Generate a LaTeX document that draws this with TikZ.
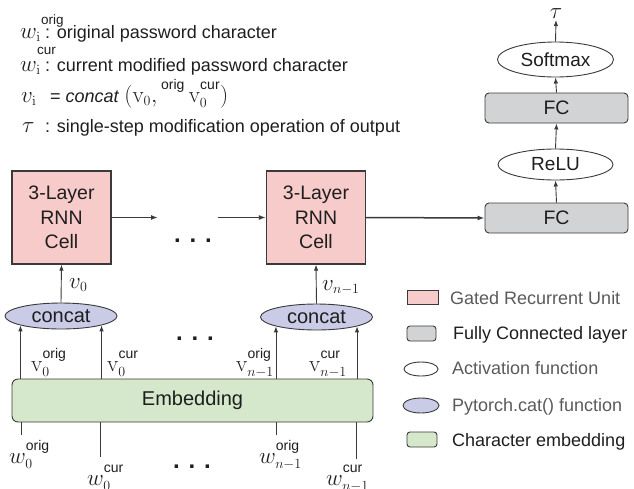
\RequirePackage{fix-cm}
\documentclass[tikz,border=0pt]{standalone}
\usepackage{amsmath}
\usepackage[no-math]{fontspec}
\setmainfont{Liberation Sans}
\DeclareMathSizes{23}{23}{14}{11}
\usetikzlibrary{shapes.geometric,arrows.meta}
\definecolor{gruFill}{HTML}{F8CBCB}
\definecolor{fcFill}{HTML}{D2D3D5}
\definecolor{catFill}{HTML}{CACBE6}
\definecolor{embFill}{HTML}{D5E8CC}
\definecolor{edgecol}{HTML}{3A3A3A}
\definecolor{lggray}{HTML}{5A5A5A}
\definecolor{txtdark}{HTML}{1E1E1E}
\newcommand{\mth}{\fontsize{23}{26}\selectfont}
\newcommand{\upsup}[1]{\text{\raisebox{4pt}{#1}}}
\tikzset{
  txt/.style={anchor=base west, inner sep=0pt, text=txtdark, font=\fontsize{18}{22}\selectfont},
  mtxt/.style={anchor=base west, inner sep=0pt, text=txtdark, font=\mth},
  suptxt/.style={anchor=base west, inner sep=0pt, text=txtdark, font=\fontsize{13.5}{15}\selectfont},
  cellbox/.style={draw=edgecol, fill=gruFill, line width=1.3pt, minimum width=99pt, minimum height=93pt,
    align=center, inner sep=0pt, text=txtdark, font=\fontsize{19.5}{24.5}\selectfont},
  fcbox/.style={draw=edgecol, fill=fcFill, rounded corners=4pt, line width=0.9pt, minimum width=143pt,
    minimum height=30pt, inner sep=0pt, text=txtdark, font=\fontsize{19.5}{22}\selectfont},
  actell/.style={ellipse, draw=edgecol, fill=white, line width=0.9pt, inner sep=0pt, text=txtdark,
    font=\fontsize{19}{22}\selectfont},
  catell/.style={ellipse, draw=edgecol, fill=catFill, line width=0.9pt, minimum width=112pt,
    minimum height=26pt, inner sep=0pt, text=txtdark, font=\fontsize{20}{22}\selectfont},
  embbox/.style={draw=edgecol, fill=embFill, rounded corners=6pt, line width=0.9pt, minimum width=361pt,
    minimum height=43pt, inner sep=0pt, text=txtdark, font=\fontsize{20}{22}\selectfont},
  arr/.style={-{Latex[length=6pt,width=4.5pt]}, line width=0.9pt, draw=edgecol},
  harr/.style={-{Latex[length=7pt,width=5pt]}, line width=1.5pt, draw=edgecol},
  plainln/.style={line width=0.9pt, draw=edgecol},
  dotstxt/.style={anchor=base, inner sep=0pt, text=txtdark, font=\fontsize{24}{26}\selectfont\bfseries},
  lgtext/.style={anchor=base west, inner sep=0pt, font=\fontsize{18}{22}\selectfont},
  lgbox/.style={draw=edgecol, line width=0.9pt, inner sep=0pt},
}
\begin{document}
\begin{tikzpicture}[x=1pt,y=-1pt]
\useasboundingbox (0,0) rectangle (634,488);

% ---- notation block (top left)
\node[mtxt] (l1w) at (20,38) {$w_{\mathrm{i}}$};
\node[suptxt] (l1s) at (41,24) {orig};
\node[txt] (l1t) at (45,38) {: original password character};
\node[mtxt] (l2w) at (20,71) {$w_{\mathrm{i}}$};
\node[suptxt] (l2s) at (37,54) {cur};
\node[txt] (l2t) at (45,71) {: current modified password character};
\node[mtxt] (l3v) at (21,102) {$v_{\mathrm{i}}$};
\node[txt] (l3t) at (47,102) {\,= \textit{concat} {\mth$(\mathrm{v}_0,{}^{\upsup{orig}}\,\mathrm{v}_0^{\upsup{cur}})$}};
\node[mtxt] (l4t) at (22,132) {$\tau$};
\node[txt] (l4s) at (45,132) {: single-step modification operation of output};

% ---- RNN cells
\node[cellbox] (cell1) at (61.5,217.5) {3-Layer\\RNN\\Cell};
\node[cellbox] (cell2) at (316,217.5) {3-Layer\\RNN\\Cell};
\coordinate (a1) at (158,217.5);
\coordinate (a2) at (218,217.5);
\draw[harr] (cell1.east) -- (a1);
\draw[harr] (a2) -- (cell2.west);
\node[dotstxt] (dots1) at (193,242) {. . .};

% ---- output column
\node[fcbox] (fc1) at (556.5,218) {FC};
\node[actell, minimum width=115pt, minimum height=31pt] (relu) at (555.5,164.5) {ReLU};
\node[fcbox] (fc2) at (556.5,108) {FC};
\node[actell, minimum width=116pt, minimum height=35pt] (soft) at (555.5,59.5) {Softmax};
\node[mtxt, anchor=south, inner sep=1pt] (tau) at (556,20) {$\tau$};
\draw[harr] (cell2.east) -- (fc1.west);
\draw[arr] (fc1.north) -- (relu.south);
\draw[arr] (relu.north) -- (fc2.south);
\draw[arr] (fc2.north) -- (soft.south);
\draw[arr] (soft.north) -- (tau.south);

% ---- concat
\node[catell] (c1) at (61,316) {concat};
\node[catell] (c2) at (316.5,317) {concat};
\draw[arr] (c1.north) -- (cell1.south);
\draw[arr] (c2.north) -- (cell2.south);
\node[mtxt] (v0) at (69,288) {$v_0$};
\node[mtxt] (vn) at (322,290) {$v_{n-1}$};
\node[dotstxt] (dots2) at (195,340) {. . .};

% ---- embedding
\node[embbox] (emb) at (192.5,400.5) {Embedding};
\draw[arr] (c1.193 |- emb.north) -- (c1.193);
\draw[arr] (c1.347 |- emb.north) -- (c1.347);
\draw[arr] (c2.193 |- emb.north) -- (c2.193);
\draw[arr] (c2.347 |- emb.north) -- (c2.347);
\node[mtxt] (vo1) at (31,371) {$\mathrm{v}_0^{\upsup{orig}}$};
\node[mtxt] (vc1) at (107,371) {$\mathrm{v}_0^{\upsup{cur}}$};
\node[mtxt, anchor=base east] (vo2) at (274,371) {$\mathrm{v}_{n-1}^{\upsup{orig}}$};
\node[mtxt, anchor=base east] (vc2) at (347,371) {$\mathrm{v}_{n-1}^{\upsup{cur}}$};

% ---- inputs
\coordinate (b1) at (21.7,435);
\coordinate (b2) at (100,457);
\coordinate (b3) at (276,435);
\coordinate (b4) at (356,459);
\draw[plainln] (b1) -- (b1 |- emb.south);
\draw[plainln] (b2) -- (b2 |- emb.south);
\draw[plainln] (b3) -- (b3 |- emb.south);
\draw[plainln] (b4) -- (b4 |- emb.south);
\node[mtxt] (wo1) at (9,463) {$w_0^{\upsup{orig}}$};
\node[mtxt] (wc1) at (87,485) {$w_0^{\upsup{cur}}$};
\node[mtxt] (wo2) at (259,463) {$w_{n-1}^{\upsup{orig}}$};
\node[mtxt] (wc2) at (326,485) {$w_{n-1}^{\upsup{cur}}$};
\node[dotstxt] (dots3) at (192,468) {. . .};

% ---- legend
\node[lgbox, fill=gruFill, minimum width=31pt, minimum height=14pt] (lg1) at (422.5,297) {};
\node[lgtext, text=lggray] (lt1) at (450,304) {Gated Recurrent Unit};
\node[lgbox, fill=fcFill, rounded corners=3pt, minimum width=29pt, minimum height=15pt] (lg2) at (421.5,333.5) {};
\node[lgtext, text=txtdark] (lt2) at (453,339) {Fully Connected layer};
\node[lgbox, ellipse, fill=white, minimum width=34pt, minimum height=14pt] (lg3) at (421,369) {};
\node[lgtext, text=lggray] (lt3) at (452,374) {Activation function};
\node[lgbox, ellipse, fill=catFill, minimum width=36pt, minimum height=15pt] (lg4) at (421,405.5) {};
\node[lgtext, text=lggray] (lt4) at (452,411) {Pytorch.cat() function};
\node[lgbox, fill=embFill, rounded corners=3pt, minimum width=30pt, minimum height=15pt] (lg5) at (422,439.5) {};
\node[lgtext, text=txtdark] (lt5) at (452,446) {Character embedding};
\end{tikzpicture}
\end{document}
